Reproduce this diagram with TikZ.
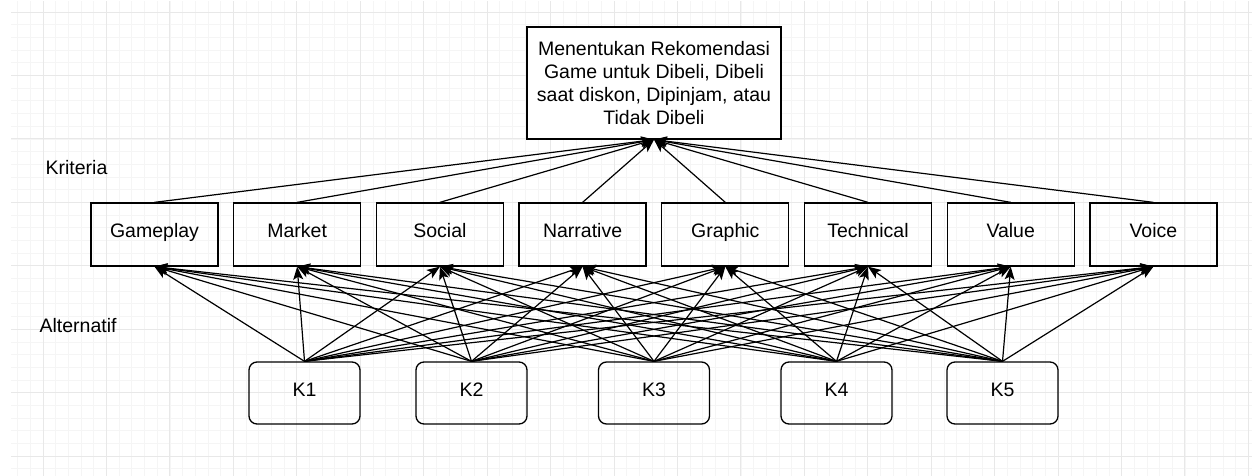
\documentclass[tikz,border=0pt]{standalone}
\usepackage{fontspec}
\setmainfont{Liberation Sans}
\usetikzlibrary{arrows.meta}

\begin{document}
\begin{tikzpicture}[x=1pt, y=-1pt, line width=1.3pt,
    every node/.style={font=\fontsize{19.5}{22.7}\selectfont},
    kriteria/.style={rectangle, draw, inner sep=0pt, text height=1.5ex, text depth=.3ex, minimum width=127pt, minimum height=63pt},
    alternatif/.style={rectangle, draw, rounded corners=8pt, inner sep=0pt, text height=1.5ex, text depth=.3ex, minimum width=111pt, minimum height=62pt},
    panah/.style={-{Stealth[length=13pt, width=10pt, inset=3pt]}, line width=1.2pt}]
  \useasboundingbox (0,0) rectangle (1252,476);
  % grid background
  \begin{scope}
    \clip (11,2) rectangle (1252,476);
    \foreach \i in {-3,...,97} {
      \draw[line width=0.8pt, black!4] ({43+12.69*\i},0) -- ({43+12.69*\i},476);
    }
    \foreach \j in {-1,...,37} {
      \draw[line width=0.8pt, black!4] (0,{12+12.69*\j}) -- (1252,{12+12.69*\j});
    }
    \foreach \i in {-1,...,19} {
      \draw[line width=0.9pt, black!9] ({43+63.44*\i},0) -- ({43+63.44*\i},476);
    }
    \foreach \j in {0,...,7} {
      \draw[line width=0.9pt, black!9] (0,{12+63.44*\j}) -- (1252,{12+63.44*\j});
    }
  \end{scope}

  \node (goal) [rectangle, draw, fill=white, inner sep=0pt, minimum width=254pt, minimum height=112pt, align=center] at (654,83)
    {Menentukan Rekomendasi\\Game untuk Dibeli, Dibeli\\saat diskon, Dipinjam, atau\\Tidak Dibeli};

  \node (lblkriteria) [anchor=west, inner sep=0pt] at (45,168) {Kriteria};
  \node (lblalternatif) [anchor=west, inner sep=0pt] at (39,326) {Alternatif};

  \node (gameplay) [kriteria] at (154.5,234.5) {Gameplay};
  \node (market) [kriteria] at (297.2,234.5) {Market};
  \node (social) [kriteria] at (439.9,234.5) {Social};
  \node (narrative) [kriteria] at (582.6,234.5) {Narrative};
  \node (graphic) [kriteria] at (725.3,234.5) {Graphic};
  \node (technical) [kriteria] at (868.0,234.5) {Technical};
  \node (value) [kriteria] at (1010.7,234.5) {Value};
  \node (voice) [kriteria] at (1153.4,234.5) {Voice};

  \node (k1) [alternatif] at (304.5,393) {K1};
  \node (k2) [alternatif] at (471.5,393) {K2};
  \node (k3) [alternatif] at (654,393) {K3};
  \node (k4) [alternatif] at (836.5,393) {K4};
  \node (k5) [alternatif] at (1002.5,393) {K5};

  \draw[panah] (gameplay.north) -- (goal.south);
  \draw[panah] (market.north) -- (goal.south);
  \draw[panah] (social.north) -- (goal.south);
  \draw[panah] (narrative.north) -- (goal.south);
  \draw[panah] (graphic.north) -- (goal.south);
  \draw[panah] (technical.north) -- (goal.south);
  \draw[panah] (value.north) -- (goal.south);
  \draw[panah] (voice.north) -- (goal.south);

  \draw[panah] (k1.north) -- (gameplay.south);
  \draw[panah] (k1.north) -- (market.south);
  \draw[panah] (k1.north) -- (social.south);
  \draw[panah] (k1.north) -- (narrative.south);
  \draw[panah] (k1.north) -- (graphic.south);
  \draw[panah] (k1.north) -- (technical.south);
  \draw[panah] (k1.north) -- (value.south);
  \draw[panah] (k1.north) -- (voice.south);

  \draw[panah] (k2.north) -- (gameplay.south);
  \draw[panah] (k2.north) -- (market.south);
  \draw[panah] (k2.north) -- (social.south);
  \draw[panah] (k2.north) -- (narrative.south);
  \draw[panah] (k2.north) -- (graphic.south);
  \draw[panah] (k2.north) -- (technical.south);
  \draw[panah] (k2.north) -- (value.south);
  \draw[panah] (k2.north) -- (voice.south);

  \draw[panah] (k3.north) -- (gameplay.south);
  \draw[panah] (k3.north) -- (market.south);
  \draw[panah] (k3.north) -- (social.south);
  \draw[panah] (k3.north) -- (narrative.south);
  \draw[panah] (k3.north) -- (graphic.south);
  \draw[panah] (k3.north) -- (technical.south);
  \draw[panah] (k3.north) -- (value.south);
  \draw[panah] (k3.north) -- (voice.south);

  \draw[panah] (k4.north) -- (gameplay.south);
  \draw[panah] (k4.north) -- (market.south);
  \draw[panah] (k4.north) -- (social.south);
  \draw[panah] (k4.north) -- (narrative.south);
  \draw[panah] (k4.north) -- (graphic.south);
  \draw[panah] (k4.north) -- (technical.south);
  \draw[panah] (k4.north) -- (value.south);
  \draw[panah] (k4.north) -- (voice.south);

  \draw[panah] (k5.north) -- (gameplay.south);
  \draw[panah] (k5.north) -- (market.south);
  \draw[panah] (k5.north) -- (social.south);
  \draw[panah] (k5.north) -- (narrative.south);
  \draw[panah] (k5.north) -- (graphic.south);
  \draw[panah] (k5.north) -- (technical.south);
  \draw[panah] (k5.north) -- (value.south);
  \draw[panah] (k5.north) -- (voice.south);
\end{tikzpicture}
\end{document}
